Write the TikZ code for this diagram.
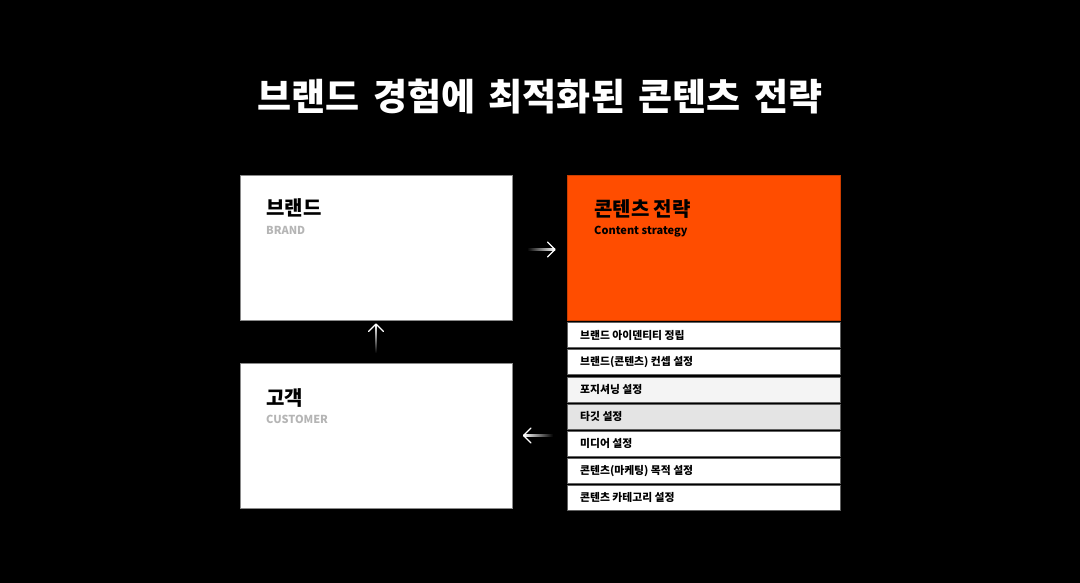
\documentclass[tikz,border=0pt]{standalone}
\usepackage{fontspec}
\setmainfont{Noto Sans CJK KR}
\definecolor{brandorange}{HTML}{FF4D00}
\definecolor{subgray}{HTML}{B5B5B5}
\definecolor{rowgrayA}{HTML}{F4F4F4}
\definecolor{rowgrayB}{HTML}{E4E4E4}
\definecolor{edgegray}{HTML}{8A8A8A}
\tikzset{
  panel/.style={draw=edgegray, line width=0.8pt, fill=white, minimum width=272pt, minimum height=145pt, inner sep=0pt, anchor=north west},
  orangepanel/.style={draw=brandorange!80!black, line width=0.6pt, fill=brandorange, minimum width=273pt, minimum height=145pt, inner sep=0pt, anchor=north west},
  rowbox/.style={draw=edgegray!70!black, line width=0.8pt, minimum width=273pt, minimum height=25pt, inner sep=0pt, anchor=north west},
  rowtext/.style={anchor=west, inner sep=0pt, font=\bfseries\fontsize{10.8pt}{12pt}\selectfont, text=black},
  headko/.style={anchor=base west, inner sep=0pt, font=\bfseries\fontsize{20pt}{24pt}\selectfont, text=black},
  headen/.style={anchor=base west, inner sep=0pt, font=\bfseries\fontsize{11pt}{13pt}\selectfont},
  arrowhead/.style={draw=white, line width=1.3pt, line cap=round, line join=round},
}
\begin{document}
\begin{tikzpicture}[x=1pt, y=-1pt]
\fill[black] (0,0) rectangle (1080,583);
\useasboundingbox (0,0) rectangle (1080,583);

% title
\node[text=white, font=\bfseries\fontsize{37pt}{42pt}\selectfont, inner sep=0pt] (title) at (540,97) {\spaceskip=13.5pt 브랜드 경험에 최적화된 콘텐츠 전략};

% panels
\node[panel] (brand) at (240,175) {};
\node[panel] (customer) at (240,363) {};
\node[orangepanel] (strategy) at (567,175) {};

\node[headko] (brandko) at (266,216) {브랜드};
\node[headen, text=subgray] (branden) at (266,235) {BRAND};
\node[headko] (custko) at (266,405) {고객};
\node[headen, text=subgray] (custen) at (266,423) {CUSTOMER};
\node[headko] (stratko) at (594,217) {콘텐츠 전략};
\node[headen, text=black] (straten) at (594,235) {Content strategy};

% rows
\node[rowbox, fill=white] (r1) at (567,322.3) {};
\node[rowbox, fill=white] (r2) at (567,349.4) {};
\node[rowbox, fill=rowgrayA] (r3) at (567,376.5) {};
\node[rowbox, fill=rowgrayB] (r4) at (567,403.6) {};
\node[rowbox, fill=white] (r5) at (567,430.7) {};
\node[rowbox, fill=white] (r6) at (567,457.8) {};
\node[rowbox, fill=white] (r7) at (567,484.9) {};
\node[rowtext] (t1) at ([xshift=13pt]r1.west) {브랜드 아이덴티티 정립};
\node[rowtext] (t2) at ([xshift=13pt]r2.west) {브랜드(콘텐츠) 컨셉 설정};
\node[rowtext] (t3) at ([xshift=13pt]r3.west) {포지셔닝 설정};
\node[rowtext] (t4) at ([xshift=13pt]r4.west) {타깃 설정};
\node[rowtext] (t5) at ([xshift=13pt]r5.west) {미디어 설정};
\node[rowtext] (t6) at ([xshift=13pt]r6.west) {콘텐츠(마케팅) 목적 설정};
\node[rowtext] (t7) at ([xshift=13pt]r7.west) {콘텐츠 카테고리 설정};

% arrows (fading shafts)
\coordinate (aRs) at (527,249.5);
\coordinate (aRe) at (555,249.5);
\shade[left color=black, right color=white] (527,248.8) rectangle (555,250.2);
\draw[arrowhead] (547.5,242) -- (aRe) -- (547.5,257);

\coordinate (aUs) at (376,353);
\coordinate (aUe) at (376,324);
\shade[top color=white, bottom color=black] (375.3,324) rectangle (376.7,353);
\draw[arrowhead] (368.5,331.5) -- (aUe) -- (383.5,331.5);

\coordinate (aLs) at (553,435.5);
\coordinate (aLe) at (523.5,435.5);
\shade[left color=white, right color=black] (523.5,434.8) rectangle (553,436.2);
\draw[arrowhead] (531,428) -- (aLe) -- (531,443);
\end{tikzpicture}
\end{document}
